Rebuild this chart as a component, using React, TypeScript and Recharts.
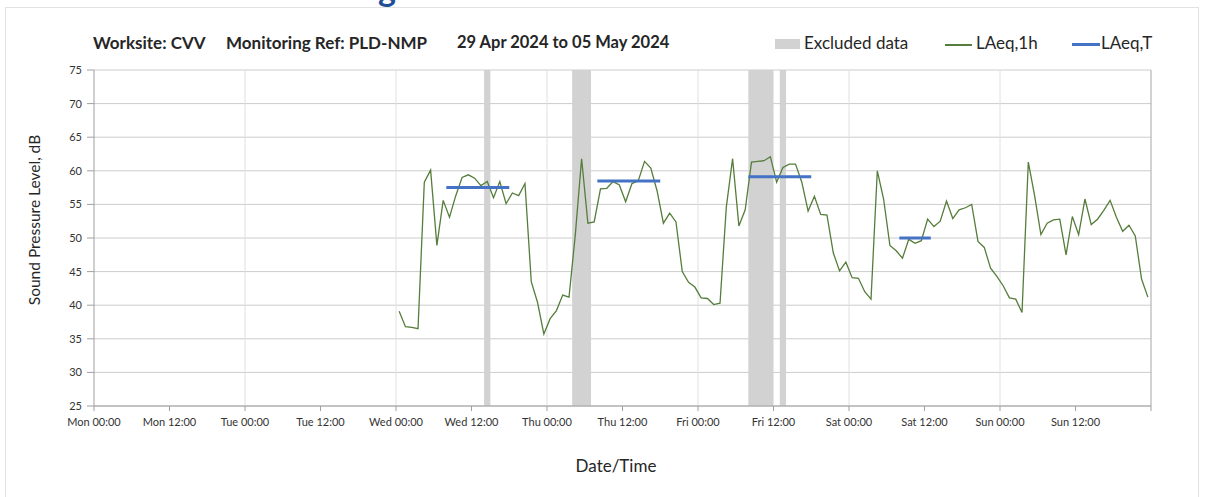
import React from 'react';
import { ComposedChart, Line, XAxis, YAxis, CartesianGrid, ReferenceArea, ReferenceLine } from 'recharts';

// x axis runs in hours from Mon 00:00 (0) to the following Mon 00:00 (168)
const xTickHours = [0, 12, 24, 36, 48, 60, 72, 84, 96, 108, 120, 132, 144, 156, 168];
const xTickLabels = [
  'Mon 00:00', 'Mon 12:00', 'Tue 00:00', 'Tue 12:00', 'Wed 00:00', 'Wed 12:00', 'Thu 00:00',
  'Thu 12:00', 'Fri 00:00', 'Fri 12:00', 'Sat 00:00', 'Sat 12:00', 'Sun 00:00', 'Sun 12:00', '',
];
const dayLines = [24, 48, 72, 96, 120, 144];
const yTicks = [25, 30, 35, 40, 45, 50, 55, 60, 65, 70, 75];

// hourly LAeq, first value is the Wed 00:00-01:00 hour (plotted at mid-hour)
const firstHour = 48.5;
const laeq1h = [
  39.1, 36.8, 36.7, 36.5, 58.3, 60.1, 48.9, 55.6, 53.1, 56.3, 59.0, 59.4,
  58.9, 57.8, 58.4, 56.0, 58.4, 55.1, 56.7, 56.3, 58.1, 43.5, 40.4, 35.7,
  38.0, 39.2, 41.5, 41.2, 50.5, 61.8, 52.2, 52.4, 57.3, 57.4, 58.4, 57.9,
  55.4, 58.1, 58.5, 61.4, 60.4, 57.0, 52.2, 53.7, 52.4, 45.0, 43.4, 42.7,
  41.1, 41.0, 40.1, 40.3, 54.6, 61.8, 51.8, 54.2, 61.3, 61.4, 61.5, 62.1,
  58.3, 60.5, 61.0, 61.0, 58.3, 54.0, 56.2, 53.5, 53.4, 47.8, 45.1, 46.4,
  44.1, 44.0, 42.0, 40.9, 60.0, 55.8, 48.9, 48.1, 47.0, 49.8, 49.2, 49.6,
  52.8, 51.7, 52.5, 55.5, 52.9, 54.2, 54.5, 55.0, 49.5, 48.6, 45.5, 44.3,
  42.9, 41.1, 40.9, 38.9, 61.3, 56.3, 50.5, 52.2, 52.7, 52.8, 47.5, 53.2,
  50.5, 55.8, 52.0, 52.8, 54.1, 55.6, 53.1, 51.0, 51.9, 50.3, 43.9, 41.2,
];

// LAeq,T over each assessment period
const periodStart = [56, 80, 104, 128];
const periodEnd = [66, 90, 114, 133];
const periodLevel = [57.5, 58.5, 59.1, 50.0];

// excluded data windows
const excludedStart = [62, 76, 104, 109];
const excludedEnd = [63, 79, 108, 110];

const hourlyRows = laeq1h.map((v, i) => ({ t: firstHour + i, laeq1h: v }));
const periodRows: { t: number; laeqT: number | null }[] = [];
periodStart.forEach((s, i) => {
  periodRows.push({ t: s, laeqT: periodLevel[i] });
  periodRows.push({ t: periodEnd[i], laeqT: periodLevel[i] });
  periodRows.push({ t: periodEnd[i], laeqT: null });
});

const GREEN = '#557d3b';
const BLUE = '#4472c4';
const GREY = '#d2d2d2';
const FONT = 'Lato, "Open Sans", sans-serif';

const App: React.FC = () => {
  return (
    <div style={{ position: 'absolute', left: 0, top: 0, width: 1208, height: 497, overflow: 'hidden', background: '#fff', fontFamily: FONT, color: '#262626' }}>
      <div style={{ position: 'absolute', left: 5, top: 7, width: 1192, height: 520, border: '1px solid #e2e2e2' }} />
      <div style={{ position: 'absolute', left: 378, top: -29, fontSize: 34, fontWeight: 700, color: '#1f4e99', lineHeight: '34px' }}>g</div>

      <div style={{ position: 'absolute', top: 32, left: 93, fontSize: 17, fontWeight: 700, whiteSpace: 'nowrap' }}>Worksite: CVV</div>
      <div style={{ position: 'absolute', top: 32, left: 226, fontSize: 17, fontWeight: 700, whiteSpace: 'nowrap' }}>Monitoring Ref: PLD-NMP</div>
      <div style={{ position: 'absolute', top: 32, left: 457, fontSize: 16.5, fontWeight: 700, whiteSpace: 'nowrap' }}>29 Apr 2024 to 05 May 2024</div>

      <div style={{ position: 'absolute', left: 775, top: 39, width: 25, height: 10, background: GREY }} />
      <div style={{ position: 'absolute', top: 32, left: 804, fontSize: 17, whiteSpace: 'nowrap' }}>Excluded data</div>
      <div style={{ position: 'absolute', left: 945, top: 44, width: 27, height: 1.5, background: GREEN }} />
      <div style={{ position: 'absolute', top: 32, left: 976, fontSize: 17, whiteSpace: 'nowrap' }}>LAeq,1h</div>
      <div style={{ position: 'absolute', left: 1072, top: 43, width: 28, height: 3, background: BLUE }} />
      <div style={{ position: 'absolute', top: 32, left: 1101, fontSize: 17, whiteSpace: 'nowrap' }}>LAeq,T</div>

      <div style={{ position: 'absolute', left: 34, top: 220, transform: 'translate(-50%, -50%) rotate(-90deg)', fontSize: 15.5, whiteSpace: 'nowrap' }}>
        Sound Pressure Level, dB
      </div>
      <div style={{ position: 'absolute', left: 616, top: 465, transform: 'translate(-50%, -50%)', fontSize: 17, whiteSpace: 'nowrap' }}>
        Date/Time
      </div>

      <div style={{ position: 'absolute', left: 0, top: 0 }}>
        <ComposedChart width={1208} height={497} margin={{ top: 70, right: 57, bottom: 61, left: 54 }}>
          <CartesianGrid vertical={false} stroke="#cccccc" strokeWidth={1} />
          {dayLines.map((d) => (
            <ReferenceLine key={d} x={d} stroke="#e0e0e0" strokeWidth={1} />
          ))}
          <ReferenceLine x={168} stroke="#a6a6a6" strokeWidth={1} />
          {excludedStart.map((s, i) => (
            <ReferenceArea key={s} x1={s} x2={excludedEnd[i]} y1={25} y2={75} fill={GREY} fillOpacity={1} stroke="none" />
          ))}
          <XAxis
            dataKey="t"
            type="number"
            domain={[0, 168]}
            ticks={xTickHours}
            interval={0}
            height={30}
            allowDataOverflow
            tickFormatter={(v: number) => xTickLabels[xTickHours.indexOf(v)] ?? ''}
            tick={{ fontSize: 11, fill: '#333', fontFamily: FONT }}
            axisLine={{ stroke: '#a0a0a0' }}
            tickLine={{ stroke: '#a0a0a0' }}
            tickSize={5}
            tickMargin={7}
          />
          <YAxis
            type="number"
            domain={[25, 75]}
            ticks={yTicks}
            interval={0}
            width={40}
            tick={{ fontSize: 11, fill: '#333', fontFamily: FONT }}
            axisLine={{ stroke: '#a0a0a0' }}
            tickLine={{ stroke: '#a0a0a0' }}
            tickSize={7}
            tickMargin={5}
          />
          <Line
            data={hourlyRows}
            dataKey="laeq1h"
            type="linear"
            stroke={GREEN}
            strokeWidth={1.3}
            dot={false}
            activeDot={false}
            isAnimationActive={false}
          />
          <Line
            data={periodRows}
            dataKey="laeqT"
            type="linear"
            stroke={BLUE}
            strokeWidth={3}
            dot={false}
            activeDot={false}
            connectNulls={false}
            isAnimationActive={false}
          />
        </ComposedChart>
      </div>
    </div>
  );
};

export default App;
